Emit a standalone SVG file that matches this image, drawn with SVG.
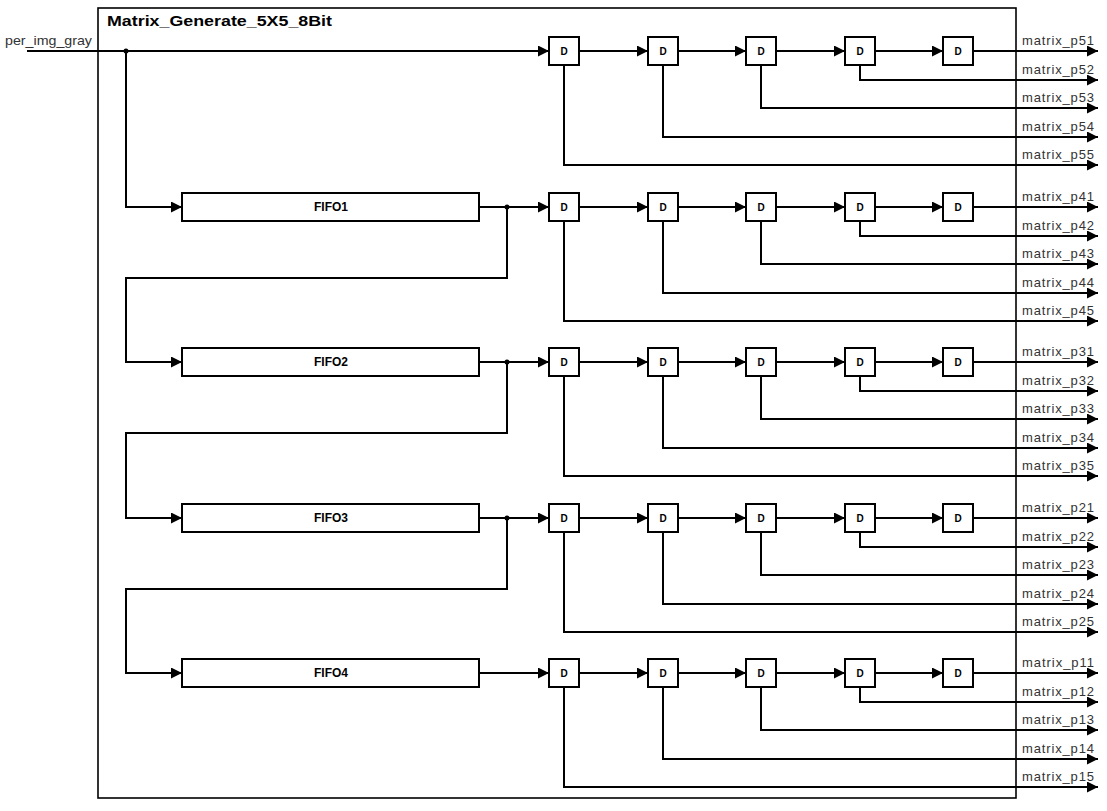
<svg xmlns="http://www.w3.org/2000/svg" width="1107" height="811" viewBox="0 0 1107 811">
<style>
.w{fill:none;stroke:#000;stroke-width:2}
.a{marker-end:url(#ah)}
.box{fill:#fff;stroke:#000;stroke-width:2}
.d{font-family:"Liberation Sans",Arial,sans-serif;font-size:10px;font-weight:bold;text-anchor:middle}
.f{font-family:"Liberation Sans",Arial,sans-serif;font-size:12px;font-weight:bold;text-anchor:middle}
.l{font-family:"Liberation Sans",Arial,sans-serif;font-size:13px;fill:#333}
.dot{fill:#000}
</style>
<defs>
<marker id="ah" markerUnits="userSpaceOnUse" markerWidth="11" markerHeight="11" refX="11" refY="5.5" orient="auto"><path d="M0,0 L11,5.5 L0,11 z" fill="#000"/></marker>
</defs>
<rect width="1107" height="811" fill="#fff"/>
<g id="module">
<rect x="98" y="8" width="918" height="790" fill="none" stroke="#000" stroke-width="1.6"/>
<text x="107" y="26" font-family="'Liberation Sans',Arial,sans-serif" font-size="15" font-weight="bold" textLength="225" lengthAdjust="spacingAndGlyphs">Matrix_Generate_5X5_8Bit</text>
</g>
<text x="5" y="45" class="l" font-size="11" textLength="87" lengthAdjust="spacingAndGlyphs">per_img_gray</text>
<g id="connectors">
<path class="w a" d="M27,51 H549"/>
<circle class="dot" cx="126" cy="51" r="2.5"/>
<path class="w a" d="M126,51 V207 H182"/>
<path class="w a" d="M479,207 H549"/>
<circle class="dot" cx="507" cy="207" r="2.5"/>
<path class="w a" d="M507,207 V278 H126 V362 H182"/>
<path class="w a" d="M479,362 H549"/>
<circle class="dot" cx="507" cy="362" r="2.5"/>
<path class="w a" d="M507,362 V433 H126 V518 H182"/>
<path class="w a" d="M479,518 H549"/>
<circle class="dot" cx="507" cy="518" r="2.5"/>
<path class="w a" d="M507,518 V589 H126 V673 H182"/>
<path class="w a" d="M479,673 H549"/>
<path class="w a" d="M579,51 H648"/><path class="w a" d="M678,51 H746"/><path class="w a" d="M776,51 H845"/><path class="w a" d="M875,51 H943"/><path class="w a" d="M973,51 H1098"/>
<path class="w a" d="M860,65 V80 H1098"/><path class="w a" d="M761,65 V108 H1098"/><path class="w a" d="M663,65 V137 H1098"/><path class="w a" d="M564,65 V165 H1098"/>
<path class="w a" d="M579,207 H648"/><path class="w a" d="M678,207 H746"/><path class="w a" d="M776,207 H845"/><path class="w a" d="M875,207 H943"/><path class="w a" d="M973,207 H1098"/>
<path class="w a" d="M860,221 V236 H1098"/><path class="w a" d="M761,221 V264 H1098"/><path class="w a" d="M663,221 V293 H1098"/><path class="w a" d="M564,221 V321 H1098"/>
<path class="w a" d="M579,362 H648"/><path class="w a" d="M678,362 H746"/><path class="w a" d="M776,362 H845"/><path class="w a" d="M875,362 H943"/><path class="w a" d="M973,362 H1098"/>
<path class="w a" d="M860,376 V391 H1098"/><path class="w a" d="M761,376 V419 H1098"/><path class="w a" d="M663,376 V448 H1098"/><path class="w a" d="M564,376 V476 H1098"/>
<path class="w a" d="M579,518 H648"/><path class="w a" d="M678,518 H746"/><path class="w a" d="M776,518 H845"/><path class="w a" d="M875,518 H943"/><path class="w a" d="M973,518 H1098"/>
<path class="w a" d="M860,532 V547 H1098"/><path class="w a" d="M761,532 V575 H1098"/><path class="w a" d="M663,532 V604 H1098"/><path class="w a" d="M564,532 V632 H1098"/>
<path class="w a" d="M579,673 H648"/><path class="w a" d="M678,673 H746"/><path class="w a" d="M776,673 H845"/><path class="w a" d="M875,673 H943"/><path class="w a" d="M973,673 H1098"/>
<path class="w a" d="M860,687 V702 H1098"/><path class="w a" d="M761,687 V730 H1098"/><path class="w a" d="M663,687 V759 H1098"/><path class="w a" d="M564,687 V787 H1098"/>
</g>
<g id="fifo1"><rect class="box" x="182" y="193" width="297" height="28"/><text class="f" x="331" y="211">FIFO1</text></g>
<g id="fifo2"><rect class="box" x="182" y="348" width="297" height="28"/><text class="f" x="331" y="366">FIFO2</text></g>
<g id="fifo3"><rect class="box" x="182" y="504" width="297" height="28"/><text class="f" x="331" y="522">FIFO3</text></g>
<g id="fifo4"><rect class="box" x="182" y="659" width="297" height="28"/><text class="f" x="331" y="677">FIFO4</text></g>
<g id="d_r1">
<g id="d11"><rect class="box" x="549" y="37" width="30" height="28"/><text class="d" x="564" y="55">D</text></g>
<g id="d12"><rect class="box" x="648" y="37" width="30" height="28"/><text class="d" x="663" y="55">D</text></g>
<g id="d13"><rect class="box" x="746" y="37" width="30" height="28"/><text class="d" x="761" y="55">D</text></g>
<g id="d14"><rect class="box" x="845" y="37" width="30" height="28"/><text class="d" x="860" y="55">D</text></g>
<g id="d15"><rect class="box" x="943" y="37" width="30" height="28"/><text class="d" x="958" y="55">D</text></g>
</g>
<g id="d_r2">
<g id="d21"><rect class="box" x="549" y="193" width="30" height="28"/><text class="d" x="564" y="211">D</text></g>
<g id="d22"><rect class="box" x="648" y="193" width="30" height="28"/><text class="d" x="663" y="211">D</text></g>
<g id="d23"><rect class="box" x="746" y="193" width="30" height="28"/><text class="d" x="761" y="211">D</text></g>
<g id="d24"><rect class="box" x="845" y="193" width="30" height="28"/><text class="d" x="860" y="211">D</text></g>
<g id="d25"><rect class="box" x="943" y="193" width="30" height="28"/><text class="d" x="958" y="211">D</text></g>
</g>
<g id="d_r3">
<g id="d31"><rect class="box" x="549" y="348" width="30" height="28"/><text class="d" x="564" y="366">D</text></g>
<g id="d32"><rect class="box" x="648" y="348" width="30" height="28"/><text class="d" x="663" y="366">D</text></g>
<g id="d33"><rect class="box" x="746" y="348" width="30" height="28"/><text class="d" x="761" y="366">D</text></g>
<g id="d34"><rect class="box" x="845" y="348" width="30" height="28"/><text class="d" x="860" y="366">D</text></g>
<g id="d35"><rect class="box" x="943" y="348" width="30" height="28"/><text class="d" x="958" y="366">D</text></g>
</g>
<g id="d_r4">
<g id="d41"><rect class="box" x="549" y="504" width="30" height="28"/><text class="d" x="564" y="522">D</text></g>
<g id="d42"><rect class="box" x="648" y="504" width="30" height="28"/><text class="d" x="663" y="522">D</text></g>
<g id="d43"><rect class="box" x="746" y="504" width="30" height="28"/><text class="d" x="761" y="522">D</text></g>
<g id="d44"><rect class="box" x="845" y="504" width="30" height="28"/><text class="d" x="860" y="522">D</text></g>
<g id="d45"><rect class="box" x="943" y="504" width="30" height="28"/><text class="d" x="958" y="522">D</text></g>
</g>
<g id="d_r5">
<g id="d51"><rect class="box" x="549" y="659" width="30" height="28"/><text class="d" x="564" y="677">D</text></g>
<g id="d52"><rect class="box" x="648" y="659" width="30" height="28"/><text class="d" x="663" y="677">D</text></g>
<g id="d53"><rect class="box" x="746" y="659" width="30" height="28"/><text class="d" x="761" y="677">D</text></g>
<g id="d54"><rect class="box" x="845" y="659" width="30" height="28"/><text class="d" x="860" y="677">D</text></g>
<g id="d55"><rect class="box" x="943" y="659" width="30" height="28"/><text class="d" x="958" y="677">D</text></g>
</g>
<g id="labels">
<text class="l" x="1022" y="45" textLength="72">matrix_p51</text><text class="l" x="1022" y="74" textLength="72">matrix_p52</text><text class="l" x="1022" y="102" textLength="72">matrix_p53</text><text class="l" x="1022" y="131" textLength="72">matrix_p54</text><text class="l" x="1022" y="159" textLength="72">matrix_p55</text>
<text class="l" x="1022" y="201" textLength="72">matrix_p41</text><text class="l" x="1022" y="230" textLength="72">matrix_p42</text><text class="l" x="1022" y="258" textLength="72">matrix_p43</text><text class="l" x="1022" y="287" textLength="72">matrix_p44</text><text class="l" x="1022" y="315" textLength="72">matrix_p45</text>
<text class="l" x="1022" y="356" textLength="72">matrix_p31</text><text class="l" x="1022" y="385" textLength="72">matrix_p32</text><text class="l" x="1022" y="413" textLength="72">matrix_p33</text><text class="l" x="1022" y="442" textLength="72">matrix_p34</text><text class="l" x="1022" y="470" textLength="72">matrix_p35</text>
<text class="l" x="1022" y="512" textLength="72">matrix_p21</text><text class="l" x="1022" y="541" textLength="72">matrix_p22</text><text class="l" x="1022" y="569" textLength="72">matrix_p23</text><text class="l" x="1022" y="598" textLength="72">matrix_p24</text><text class="l" x="1022" y="626" textLength="72">matrix_p25</text>
<text class="l" x="1022" y="667" textLength="72">matrix_p11</text><text class="l" x="1022" y="696" textLength="72">matrix_p12</text><text class="l" x="1022" y="724" textLength="72">matrix_p13</text><text class="l" x="1022" y="753" textLength="72">matrix_p14</text><text class="l" x="1022" y="781" textLength="72">matrix_p15</text>
</g>
</svg>
